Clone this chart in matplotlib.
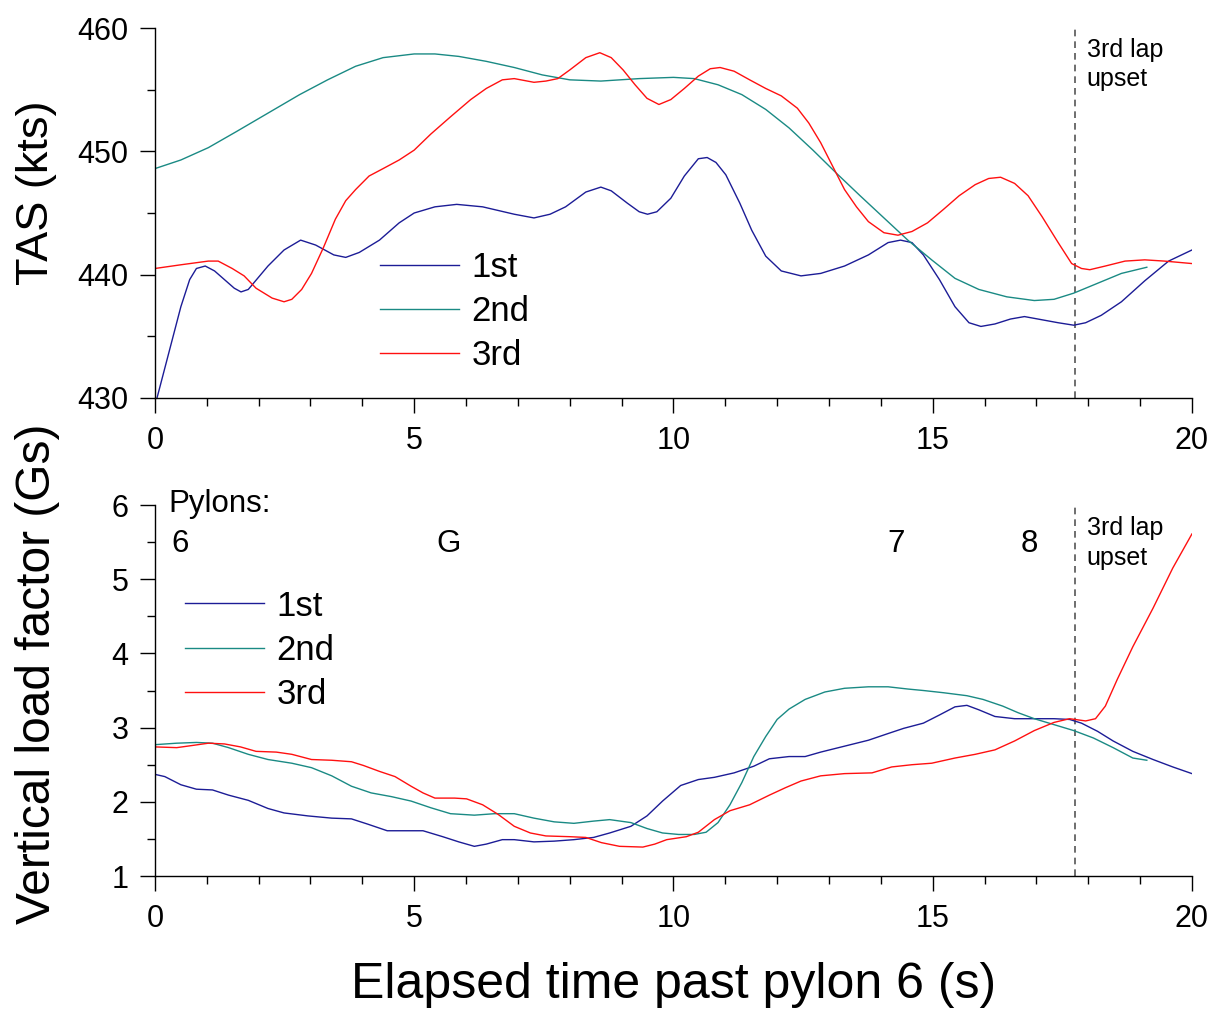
import matplotlib
matplotlib.use('Agg')
import matplotlib.pyplot as plt
from matplotlib.ticker import MultipleLocator

plt.rcParams['font.family'] = ['Liberation Sans', 'DejaVu Sans']

# TAS (kts) - время (с) для трёх кругов
tas1_t = [0.04, 0.5, 0.67, 0.8, 0.97, 1.15, 1.53, 1.66, 1.8, 2.18, 2.49, 2.81, 3.1, 3.45, 3.68, 3.94,
          4.33, 4.71, 5.0, 5.4, 5.82, 6.32, 6.93, 7.31, 7.62, 7.92, 8.31, 8.6, 8.8, 9.11, 9.34, 9.5,
          9.68, 9.95, 10.21, 10.48, 10.65, 10.82, 11.01, 11.28, 11.51, 11.78, 12.08, 12.46, 12.84,
          13.3, 13.76, 14.14, 14.38, 14.6, 14.82, 15.13, 15.43, 15.7, 15.93, 16.2, 16.5, 16.77,
          17.03, 17.42, 17.72, 17.95, 18.25, 18.64, 19.09, 19.55, 20.0]
tas1 = [430.0, 437.4, 439.6, 440.5, 440.7, 440.3, 438.9, 438.6, 438.8, 440.7, 442.0, 442.8, 442.4,
        441.6, 441.4, 441.8, 442.8, 444.2, 445.0, 445.5, 445.7, 445.5, 444.9, 444.6, 444.9, 445.5,
        446.7, 447.1, 446.8, 445.8, 445.1, 444.9, 445.1, 446.2, 448.0, 449.4, 449.5, 449.1, 448.1,
        445.8, 443.6, 441.5, 440.3, 439.9, 440.1, 440.7, 441.6, 442.6, 442.8, 442.6, 441.6, 439.6,
        437.4, 436.1, 435.8, 436.0, 436.4, 436.6, 436.4, 436.1, 435.9, 436.1, 436.7, 437.8, 439.5,
        441.1, 442.0]

tas2_t = [0.0, 0.5, 1.03, 1.57, 2.18, 2.79, 3.33, 3.87, 4.4, 5.0, 5.4, 5.86, 6.39, 6.93, 7.47, 8.0,
          8.6, 9.34, 10.0, 10.4, 10.86, 11.32, 11.78, 12.23, 12.69, 13.15, 13.6, 14.06, 14.52, 14.98,
          15.43, 15.89, 16.43, 16.96, 17.34, 17.72, 18.18, 18.64, 19.13]
tas2 = [448.6, 449.3, 450.3, 451.6, 453.1, 454.6, 455.8, 456.9, 457.6, 457.9, 457.9, 457.7, 457.3,
        456.8, 456.2, 455.8, 455.7, 455.9, 456.0, 455.9, 455.4, 454.6, 453.4, 451.9, 450.1, 448.2,
        446.4, 444.6, 442.8, 441.2, 439.7, 438.8, 438.2, 437.9, 438.0, 438.5, 439.3, 440.1, 440.6]

tas3_t = [0.0, 0.5, 1.03, 1.22, 1.49, 1.72, 1.95, 2.26, 2.49, 2.64, 2.83, 3.02, 3.25, 3.48, 3.68,
          3.87, 4.13, 4.4, 4.71, 5.0, 5.32, 5.7, 6.09, 6.39, 6.7, 6.93, 7.31, 7.54, 7.77, 8.0, 8.31,
          8.58, 8.8, 9.03, 9.26, 9.49, 9.72, 9.95, 10.21, 10.48, 10.71, 10.9, 11.17, 11.47, 11.78,
          12.08, 12.39, 12.61, 12.84, 13.07, 13.3, 13.53, 13.76, 14.06, 14.33, 14.6, 14.9, 15.21,
          15.51, 15.82, 16.08, 16.31, 16.58, 16.84, 17.11, 17.42, 17.68, 17.87, 18.03, 18.33, 18.71,
          19.09, 19.47, 20.0]
tas3 = [440.5, 440.8, 441.1, 441.1, 440.5, 439.9, 438.9, 438.1, 437.8, 438.0, 438.8, 440.1, 442.2,
        444.5, 446.0, 446.9, 448.0, 448.6, 449.3, 450.1, 451.4, 452.8, 454.2, 455.1, 455.8, 455.9,
        455.6, 455.7, 455.9, 456.6, 457.6, 458.0, 457.6, 456.6, 455.4, 454.3, 453.8, 454.2, 455.1,
        456.1, 456.7, 456.8, 456.5, 455.8, 455.1, 454.5, 453.5, 452.3, 450.7, 448.8, 446.9, 445.5,
        444.3, 443.4, 443.2, 443.5, 444.2, 445.3, 446.4, 447.3, 447.8, 447.9, 447.4, 446.4, 444.7,
        442.6, 440.9, 440.5, 440.4, 440.7, 441.1, 441.2, 441.1, 440.9]

# перегрузка (G)
g1_t = [0.0, 0.19, 0.5, 0.8, 1.11, 1.42, 1.8, 2.18, 2.49, 2.95, 3.41, 3.79, 4.1, 4.48, 4.79, 5.17,
        5.55, 5.86, 6.16, 6.39, 6.7, 6.93, 7.31, 7.7, 8.08, 8.46, 8.77, 9.18, 9.49, 9.79, 10.14,
        10.48, 10.79, 11.17, 11.55, 11.85, 12.23, 12.54, 12.84, 13.3, 13.76, 14.14, 14.44, 14.82,
        15.13, 15.43, 15.66, 15.89, 16.2, 16.58, 16.96, 17.34, 17.64, 17.87, 18.18, 18.48, 18.86,
        19.25, 19.63, 20.0]
g1 = [2.37, 2.34, 2.23, 2.17, 2.16, 2.09, 2.02, 1.91, 1.85, 1.81, 1.78, 1.77, 1.70, 1.61, 1.61,
      1.61, 1.53, 1.46, 1.40, 1.43, 1.49, 1.49, 1.46, 1.47, 1.49, 1.52, 1.58, 1.67, 1.81, 2.01,
      2.22, 2.30, 2.33, 2.39, 2.48, 2.58, 2.61, 2.61, 2.67, 2.75, 2.83, 2.92, 2.99, 3.06, 3.17,
      3.28, 3.30, 3.24, 3.15, 3.12, 3.12, 3.12, 3.11, 3.06, 2.95, 2.82, 2.68, 2.57, 2.47, 2.38]

g2_t = [0.0, 0.42, 0.8, 1.11, 1.42, 1.8, 2.18, 2.64, 3.02, 3.41, 3.79, 4.17, 4.56, 4.94, 5.32, 5.7,
        6.16, 6.55, 6.93, 7.31, 7.7, 8.08, 8.46, 8.77, 9.18, 9.49, 9.79, 10.1, 10.4, 10.63, 10.86,
        11.09, 11.32, 11.55, 11.78, 12.0, 12.23, 12.54, 12.92, 13.3, 13.76, 14.14, 14.52, 14.82,
        15.21, 15.66, 15.97, 16.35, 16.65, 16.96, 17.34, 17.72, 18.1, 18.48, 18.86, 19.13]
g2 = [2.77, 2.79, 2.80, 2.79, 2.73, 2.64, 2.57, 2.52, 2.46, 2.35, 2.21, 2.12, 2.07, 2.01, 1.92,
      1.84, 1.82, 1.84, 1.84, 1.78, 1.73, 1.71, 1.74, 1.76, 1.72, 1.64, 1.58, 1.56, 1.56, 1.59,
      1.72, 1.96, 2.26, 2.61, 2.88, 3.11, 3.25, 3.38, 3.48, 3.53, 3.55, 3.55, 3.52, 3.50, 3.47,
      3.43, 3.38, 3.29, 3.20, 3.12, 3.04, 2.96, 2.86, 2.73, 2.59, 2.56]

g3_t = [0.0, 0.42, 0.73, 1.03, 1.34, 1.65, 1.95, 2.34, 2.64, 3.02, 3.41, 3.79, 4.02, 4.33, 4.63,
        4.94, 5.17, 5.4, 5.78, 6.01, 6.32, 6.62, 6.93, 7.24, 7.54, 8.0, 8.31, 8.61, 8.96, 9.41,
        9.64, 9.87, 10.25, 10.48, 10.79, 11.09, 11.47, 11.85, 12.16, 12.46, 12.84, 13.3, 13.83,
        14.21, 14.6, 14.98, 15.43, 15.82, 16.2, 16.58, 16.96, 17.34, 17.64, 17.95, 18.14, 18.33,
        18.56, 18.86, 19.25, 19.63, 20.0]
g3 = [2.74, 2.73, 2.76, 2.79, 2.78, 2.74, 2.68, 2.67, 2.64, 2.57, 2.56, 2.54, 2.49, 2.41, 2.34,
      2.21, 2.12, 2.05, 2.05, 2.04, 1.96, 1.83, 1.67, 1.58, 1.54, 1.53, 1.52, 1.45, 1.40, 1.39,
      1.43, 1.49, 1.53, 1.59, 1.76, 1.88, 1.96, 2.09, 2.19, 2.28, 2.35, 2.38, 2.39, 2.47, 2.50,
      2.52, 2.59, 2.64, 2.70, 2.82, 2.96, 3.07, 3.12, 3.09, 3.12, 3.29, 3.65, 4.09, 4.61, 5.15, 5.61]

labels = ['1st', '2nd', '3rd']
colors = ['#1c1c96', '#1a8a84', '#ff1010']
upset_t = 17.74
pylon_names = ['6', 'G', '7', '8']
pylon_t = [0.48, 5.67, 14.29, 16.87]

fig = plt.figure(figsize=(12.2, 10.09), dpi=100)
ax1 = fig.add_axes([0.127, 0.6056, 0.850, 0.3666])
ax2 = fig.add_axes([0.127, 0.1318, 0.850, 0.3677])

for ax in (ax1, ax2):
    ax.spines['top'].set_visible(False)
    ax.spines['right'].set_visible(False)
    ax.spines['left'].set_linewidth(1.0)
    ax.spines['bottom'].set_linewidth(1.0)
    ax.set_xlim(0, 20)
    ax.xaxis.set_major_locator(MultipleLocator(5))
    ax.xaxis.set_minor_locator(MultipleLocator(1))
    ax.tick_params(which='major', direction='out', length=11, width=1.0, labelsize=22)
    ax.tick_params(which='minor', direction='out', length=5.5, width=1.0)
    ax.tick_params(axis='x', which='major', pad=9)
    ax.tick_params(axis='y', which='major', pad=8)
    ax.axvline(upset_t, color='#555555', lw=1.2, ls=(0, (4, 3)))

# верхний график
for t, v, lab, c in zip([tas1_t, tas2_t, tas3_t], [tas1, tas2, tas3], labels, colors):
    ax1.plot(t, v, color=c, lw=1.0, label=lab)
ax1.set_ylim(430, 460)
ax1.yaxis.set_major_locator(MultipleLocator(10))
ax1.yaxis.set_minor_locator(MultipleLocator(5))
ax1.legend(loc='upper left', bbox_to_anchor=(0.217, 0.398), frameon=False, fontsize=25,
           handlelength=2.28, handletextpad=0.35, labelspacing=0.32, borderpad=0, borderaxespad=0)
ax1.text(17.97, 457.05, '3rd lap\nupset', fontsize=18, va='center', ha='left', linespacing=1.3)

# нижний график
for t, v, lab, c in zip([g1_t, g2_t, g3_t], [g1, g2, g3], labels, colors):
    ax2.plot(t, v, color=c, lw=1.0, label=lab)
ax2.set_ylim(1, 6)
ax2.yaxis.set_major_locator(MultipleLocator(1))
ax2.yaxis.set_minor_locator(MultipleLocator(0.5))
ax2.legend(loc='upper left', bbox_to_anchor=(0.029, 0.772), frameon=False, fontsize=25,
           handlelength=2.28, handletextpad=0.35, labelspacing=0.32, borderpad=0, borderaxespad=0)
ax2.text(17.97, 5.49, '3rd lap\nupset', fontsize=18, va='center', ha='left', linespacing=1.3)
ax2.text(0.25, 6.02, 'Pylons:', fontsize=22.5, va='center', ha='left')
for name, t in zip(pylon_names, pylon_t):
    ax2.text(t, 5.48, name, fontsize=22.5, va='center', ha='center')

# подписи осей
fig.text(0.030, 0.809, 'TAS (kts)', rotation=90, fontsize=32.5, va='center', ha='center')
fig.text(0.031, 0.332, 'Vertical load factor (Gs)', rotation=90, fontsize=34.5, va='center', ha='center')
fig.text(0.552, 0.024, 'Elapsed time past pylon 6 (s)', fontsize=36, va='center', ha='center')

fig.savefig('out.png', dpi=100)
